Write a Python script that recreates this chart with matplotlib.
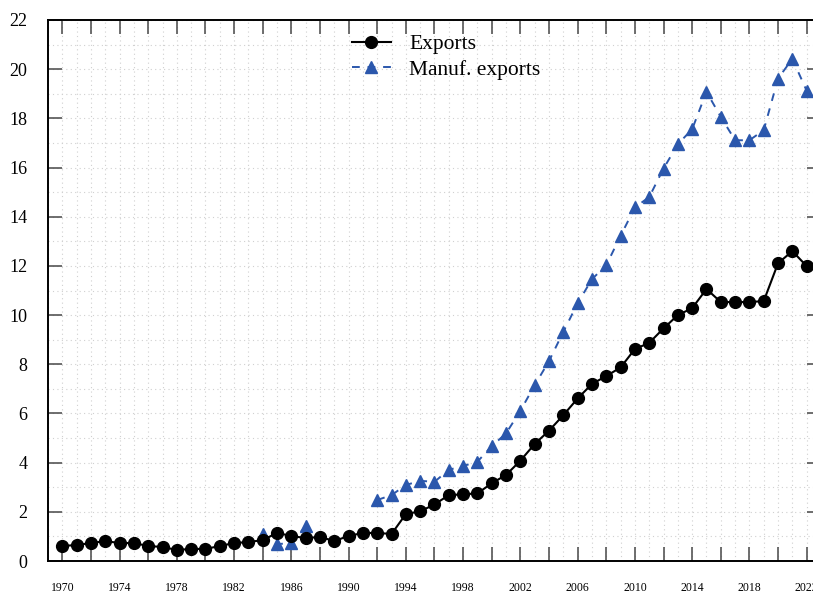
import numpy as np
import matplotlib
matplotlib.use("Agg")
import matplotlib.pyplot as plt
from matplotlib.ticker import MultipleLocator, FuncFormatter

years = list(range(1970, 2023))

exports = [0.61, 0.65, 0.73, 0.81, 0.73, 0.73, 0.61, 0.57, 0.45, 0.49,
           0.49, 0.61, 0.73, 0.77, 0.85, 1.14, 1.02, 0.93, 0.98, 0.81,
           1.02, 1.14, 1.14, 1.10, 1.91, 2.02, 2.30, 2.68, 2.71, 2.75,
           3.16, 3.50, 4.08, 4.76, 5.30, 5.93, 6.61, 7.20, 7.52, 7.87,
           8.62, 8.87, 9.46, 10.00, 10.28, 11.06, 10.53, 10.53, 10.53, 10.57,
           12.11, 12.60, 11.99]

manuf_years = list(range(1984, 2023))
manuf_exports = [1.10, 0.69, 0.72, 1.42, np.nan, np.nan, np.nan, np.nan,
                 2.48, 2.68, 3.09, 3.26, 3.22, 3.71, 3.86, 4.04, 4.67, 5.19,
                 6.11, 7.15, 8.13, 9.32, 10.48, 11.46, 12.03, 13.22, 14.38,
                 14.80, 15.96, 16.95, 17.56, 19.08, 18.06, 17.11, 17.11, 17.52,
                 19.62, 20.42, 19.12]

plt.rcParams["font.family"] = ["Liberation Serif", "DejaVu Serif"]

fig = plt.figure(figsize=(8.13, 5.93), dpi=100)
ax = fig.add_axes([48 / 813, 32 / 593, (821 - 48) / 813, (561 - 20) / 593])

blue = "#2b57ac"
ax.plot(years, exports, color="black", lw=1.5, marker="o", ms=8.5,
        label="Exports", zorder=4)
ax.plot(manuf_years, manuf_exports, color=blue, lw=1.4, ls=(0, (4, 4)),
        marker="^", ms=8.5, label="Manuf. exports", zorder=3)

ax.set_xlim(1969, 2023)
ax.set_ylim(0, 22)

ax.xaxis.set_major_locator(MultipleLocator(2))
ax.xaxis.set_minor_locator(MultipleLocator(1))
ax.yaxis.set_major_locator(MultipleLocator(2))
ax.yaxis.set_minor_locator(MultipleLocator(1))
ax.xaxis.set_major_formatter(
    FuncFormatter(lambda v, p: f"{int(round(v))}" if int(round(v)) % 4 == 2 else ""))

ax.tick_params(which="major", direction="in", length=10, width=1.2,
               color="#555555", top=True, right=True)
ax.tick_params(which="minor", length=0)
ax.tick_params(axis="x", which="major", labelsize=8.5, pad=15)
ax.tick_params(axis="y", which="major", labelsize=13, pad=15)

ax.grid(which="both", color="#d0d0d0", ls=(0, (1, 3)), lw=0.8)
ax.set_axisbelow(True)

for s in ax.spines.values():
    s.set_linewidth(1.4)
    s.set_color("black")

ax.legend(loc="upper left", bbox_to_anchor=(352 / 813, 1 - 34 / 593),
          bbox_transform=fig.transFigure, frameon=False, fontsize=15.5,
          handlelength=1.8, handletextpad=0.85, labelspacing=0.25,
          borderpad=0, borderaxespad=0)

fig.savefig("out.png", dpi=100)
